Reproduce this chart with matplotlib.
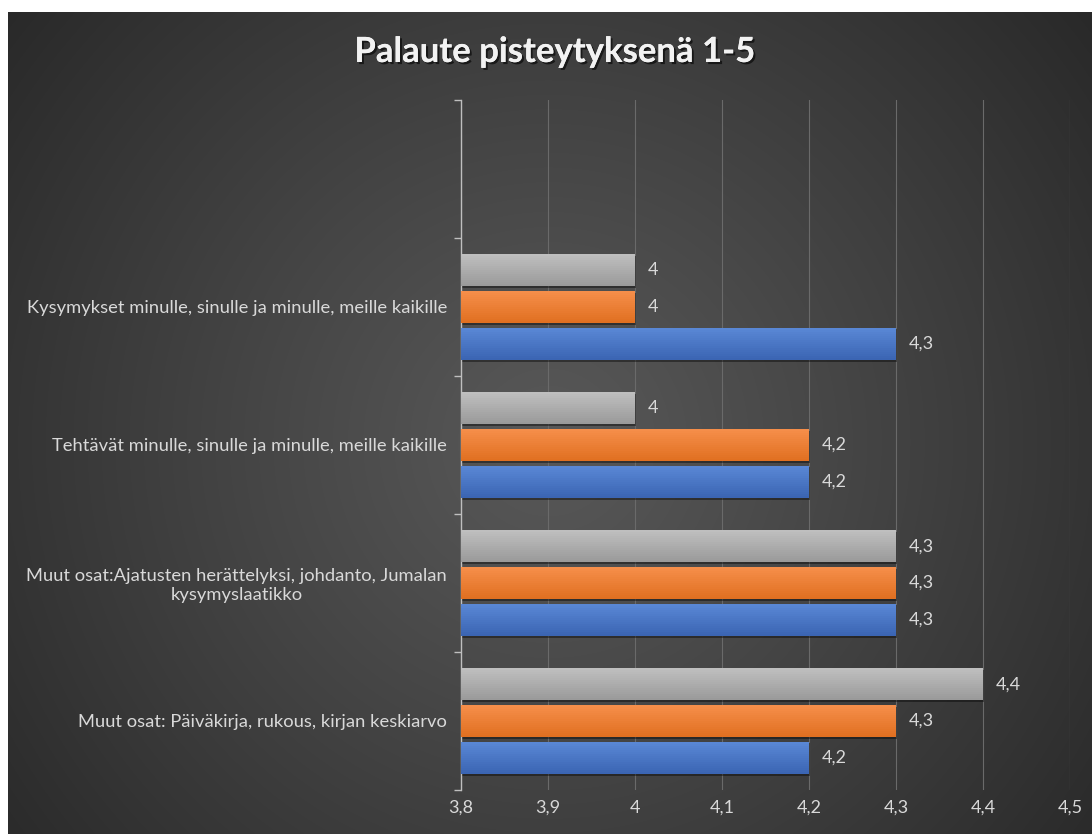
import numpy as np
import matplotlib
matplotlib.use("Agg")
import matplotlib.pyplot as plt
import matplotlib.patheffects as pe
from matplotlib.colors import to_rgb

plt.rcParams["font.family"] = ["Lato", "DejaVu Sans"]

# categories from bottom to top (Excel order); top slot is empty
categories = [
    "Muut osat: Päiväkirja, rukous, kirjan keskiarvo",
    "Muut osat:Ajatusten herättelyksi, johdanto, Jumalan\nkysymyslaatikko",
    "Tehtävät minulle, sinulle ja minulle, meille kaikille",
    "Kysymykset minulle, sinulle ja minulle, meille kaikille",
    "",
]
blue_vals = [4.2, 4.3, 4.2, 4.3, np.nan]
orange_vals = [4.3, 4.3, 4.2, 4.0, np.nan]
gray_vals = [4.4, 4.3, 4.0, 4.0, np.nan]
xticks = [3.8, 3.9, 4.0, 4.1, 4.2, 4.3, 4.4, 4.5]

series = [
    (blue_vals, "#5a88d6", "#3a64b2", -0.265),
    (orange_vals, "#f68f4b", "#e06f20", 0.0),
    (gray_vals, "#c0c0c0", "#999999", 0.265),
]
bar_h = 0.232
n_strips = 16

W, H = 1092, 834
fig = plt.figure(figsize=(W / 100, H / 100), dpi=100, facecolor="white")

# background panel with radial gradient
bg = fig.add_axes([8 / W, 0, 1 - 8 / W, 1 - 12 / H])
bg.set_axis_off()
yy, xx = np.mgrid[0:H - 12, 0:W - 8]
cx, cy = 540, 430
d = np.sqrt((xx - cx) ** 2 + (yy - cy) ** 2) / 720.0
d = np.clip(d, 0, 1)
inner, outer = 0x58 / 255, 0x27 / 255
shade = inner + (outer - inner) * d ** 1.1
bg.imshow(np.dstack([shade, shade, shade]), aspect="auto", interpolation="bilinear")

ax = fig.add_axes([461 / W, 1 - 790 / H, (1070 - 461) / W, (790 - 100) / H])
ax.set_facecolor("none")

y = np.arange(len(categories))
for vals, top, bot, off in series:
    vals = np.array(vals)
    # soft drop shadow under each bar
    ax.barh(y + off - 0.014, vals + 0.0015, height=bar_h, color="black",
            alpha=0.4, zorder=2.5, linewidth=0)
    # vertical gradient: stack of thin strips from dark bottom to light top
    c_top, c_bot = np.array(to_rgb(top)), np.array(to_rgb(bot))
    sh = bar_h / n_strips
    for k in range(n_strips):
        t = (k + 0.5) / n_strips
        col = c_bot + (c_top - c_bot) * t
        ax.barh(y + off - bar_h / 2 + sh * (k + 0.5), vals, height=sh * 1.05,
                color=col, zorder=3, linewidth=0)
    for yi, v in zip(y, vals):
        if np.isnan(v):
            continue
        ax.annotate(f"{v:g}".replace(".", ","), (v, yi + off),
                    xytext=(9, 0), textcoords="offset points", va="center", ha="left",
                    color="#d9d9d9", fontsize=13, zorder=5)

ax.set_xlim(3.8, 4.5)
ax.set_ylim(-0.5, 4.5)

ax.set_xticks(xticks)
ax.set_xticklabels([f"{t:g}".replace(".", ",") for t in xticks])
ax.xaxis.grid(True, color="#6a6a6a", linewidth=0.8, zorder=0)
ax.set_axisbelow(True)
ax.tick_params(axis="x", length=0, pad=7, labelcolor="#d9d9d9", labelsize=13)

ax.set_yticks(np.arange(-0.5, 5.0, 1.0))
ax.set_yticklabels([])
ax.set_yticks(y, categories, minor=True)
ax.tick_params(axis="y", which="major", length=5, color="#bfbfbf", width=1)
ax.tick_params(axis="y", which="minor", length=0, pad=10, labelcolor="#d9d9d9", labelsize=13.2)
for lab in ax.get_yticklabels(minor=True):
    lab.set_multialignment("center")

for s in ["top", "right", "bottom"]:
    ax.spines[s].set_visible(False)
ax.spines["left"].set_color("#bfbfbf")
ax.spines["left"].set_linewidth(1)

fig.text(555 / W, 1 - 52 / H, "Palaute pisteytyksenä 1-5", ha="center", va="center",
         fontsize=25, fontweight="bold", color="#f2f2f2",
         path_effects=[pe.withSimplePatchShadow(offset=(1.5, -1.5), shadow_rgbFace="black", alpha=0.6),
                       pe.Normal()])

fig.savefig("out.png", dpi=100, facecolor="white")
